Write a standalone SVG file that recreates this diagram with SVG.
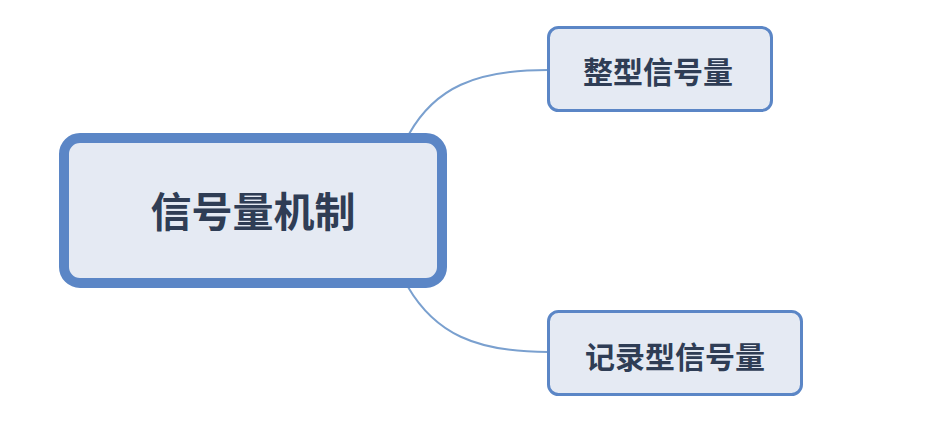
<svg xmlns="http://www.w3.org/2000/svg" width="946" height="422" viewBox="0 0 946 422">
<style>
.node{fill:#e5eaf3;stroke:#5b86c6;}
.t{font-family:"Noto Sans CJK SC","Noto Sans",sans-serif;font-weight:bold;fill:#2f3d55;text-anchor:middle;}
.conn{fill:none;stroke:#7aa0cf;stroke-width:2;}
</style>
<rect width="946" height="422" fill="#ffffff"/>
<g id="connectors">
<path class="conn" d="M409,134 C 435,88 475,70 548,70"/>
<path class="conn" d="M408,287 C 435,333 475,352 548,352"/>
</g>
<g id="main">
<rect class="node" x="64" y="138" width="378" height="145" rx="16" stroke-width="10"/>
<text class="t" x="253" y="227" font-size="41">信号量机制</text>
</g>
<g id="int-sem">
<rect class="node" x="548.5" y="27.5" width="223" height="83" rx="10" stroke-width="3"/>
<text class="t" x="658" y="83" font-size="30">整型信号量</text>
</g>
<g id="rec-sem">
<rect class="node" x="548.5" y="311.5" width="253" height="83" rx="10" stroke-width="3"/>
<text class="t" x="675" y="368" font-size="30">记录型信号量</text>
</g>
</svg>
